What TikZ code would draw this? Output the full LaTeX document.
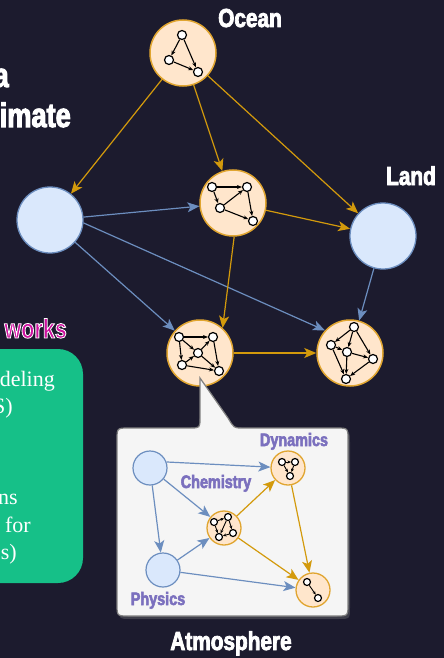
\documentclass[tikz,border=0pt]{standalone}
\usepackage{fontspec}
\usetikzlibrary{arrows.meta,shadows}
\setmainfont{Liberation Serif}
\newfontfamily\headfont[FakeStretch=0.8, FakeBold=3]{Liberation Sans}
\definecolor{bgnavy}{RGB}{28,27,46}
\definecolor{peachfill}{HTML}{FFE6CC}
\definecolor{peachring}{HTML}{E0A530}
\definecolor{goldline}{HTML}{D39A0C}
\definecolor{bluefill}{HTML}{DAE8FC}
\definecolor{blueline}{HTML}{6C8EBF}
\definecolor{labelpurple}{HTML}{7B70BE}
\definecolor{boxgreen}{HTML}{16C088}
\definecolor{calloutfill}{HTML}{F5F5F5}
\definecolor{worksmagenta}{RGB}{206,16,160}
\newcommand{\outlined}[1]{\special{pdf:literal direct 2 Tr 0.9 w 1 1 1 RG}#1\special{pdf:literal direct 0 Tr}}
\begin{document}
\begin{tikzpicture}[x=1pt, y=-1pt,
  bigpeach/.style={circle, fill=peachfill, draw=peachring, line width=1.5pt, minimum size=66pt, inner sep=0pt},
  bigblue/.style={circle, fill=bluefill, draw=blueline, line width=1.3pt, minimum size=66pt, inner sep=0pt},
  smallpeach/.style={bigpeach, minimum size=34pt, line width=1.3pt},
  smallblue/.style={bigblue, minimum size=34pt, line width=1.2pt},
  dot/.style={circle, fill=white, draw=black, line width=1.2pt, minimum size=9pt, inner sep=0pt},
  tinydot/.style={dot, minimum size=7pt},
  goldarrow/.style={draw=goldline, line width=1.2pt, -{Stealth[length=12pt, width=10pt, inset=3pt]}},
  bluearrow/.style={goldarrow, draw=blueline},
  inarrow/.style={draw=black, line width=1.1pt, -{Stealth[length=5pt, width=4pt]}},
  tinyarrow/.style={draw=black, line width=0.9pt, -{Stealth[length=3.5pt, width=3pt]}},
  headlabel/.style={text=white, anchor=base, inner sep=0pt, font=\headfont\bfseries\fontsize{26}{26}\selectfont},
  partlabel/.style={text=labelpurple, anchor=base, inner sep=0pt, font=\headfont\bfseries\fontsize{18}{18}\selectfont},
  boxline/.style={text=white, anchor=base east, inner sep=0pt, font=\fontsize{22}{27}\selectfont},
  callout/.style={draw=gray, fill=calloutfill, line width=1.2pt, drop shadow={opacity=0.35, shadow xshift=2pt, shadow yshift=-3pt}}
]
\useasboundingbox (0,0) rectangle (444,658);
\fill[bgnavy] (0,0) rectangle (444,658);

% left side, cut off
\node[text=white, anchor=base east, inner sep=0pt, font=\headfont\bfseries\fontsize{34}{34}\selectfont] (wa) at (9,87) {a};
\node[text=white, anchor=base east, inner sep=0pt, font=\headfont\bfseries\fontsize{34}{34}\selectfont] (wimate) at (71,127) {imate};
\node[text=worksmagenta, anchor=base east, inner sep=0pt, font=\headfont\bfseries\fontsize{27}{27}\selectfont] (works) at (67,338)
  {\outlined{works}};
\fill[boxgreen, rounded corners=25pt] (-40,349) rectangle (83,583);
\node[boxline] (l1) at (55,386) {deling};
\node[boxline] (l2) at (13,413) {S)};
\node[boxline] (l3) at (18,504) {ns};
\node[boxline] (l4) at (31,532) {for};
\node[boxline] (l5) at (17,559) {s)};

% main graph
\node[bigpeach] (ocean) at (183,53) {};
\node[bigblue] (leftc) at (50,220) {};
\node[bigpeach] (midc) at (233,203) {};
\node[bigblue] (land) at (383,236) {};
\node[bigpeach] (atmos) at (200,353) {};
\node[bigpeach] (lowr) at (350,353) {};

\draw[goldarrow] (ocean) -- (leftc);
\draw[goldarrow] (ocean) -- (midc);
\draw[goldarrow] (ocean) -- (land);
\draw[bluearrow] (leftc.5) -- (midc);
\draw[bluearrow] (leftc) -- (atmos);
\draw[bluearrow] (leftc.-5) -- (lowr.138);
\draw[goldarrow] (midc) -- (land);
\draw[goldarrow] (midc.-88) -- (atmos.48);
\draw[bluearrow] (land) -- (lowr);
\draw[goldarrow] (atmos) -- (lowr);

% little graphs inside
\node[dot] (o1) at (182,35) {};
\node[dot] (o2) at (169,60) {};
\node[dot] (o3) at (198,72) {};
\draw[inarrow] (o1) -- (o2);
\draw[inarrow] (o1) -- (o3);
\draw[inarrow] (o2) -- (o3);

\node[dot] (m1) at (212,187) {};
\node[dot] (m2) at (247,187) {};
\node[dot] (m3) at (220,208) {};
\node[dot] (m4) at (253,221) {};
\draw[inarrow] (m1) -- (m2);
\draw[inarrow] (m1) -- (m3);
\draw[inarrow] (m3) -- (m2);
\draw[inarrow] (m2) -- (m4);
\draw[inarrow] (m3) -- (m4);

\node[dot] (a1) at (179,337) {};
\node[dot] (a2) at (213,337) {};
\node[dot] (a3) at (198,353) {};
\node[dot] (a4) at (182,365) {};
\node[dot] (a5) at (219,371) {};
\draw[inarrow] (a1) -- (a2);
\draw[inarrow] (a1) -- (a4);
\draw[inarrow] (a1) -- (a3);
\draw[inarrow] (a4) -- (a3);
\draw[inarrow] (a3) -- (a2);
\draw[inarrow] (a4) -- (a5);
\draw[inarrow] (a3) -- (a5);
\draw[inarrow] (a2) -- (a5);

\node[dot] (r1) at (354,327) {};
\node[dot] (r2) at (331,345) {};
\node[dot] (r3) at (347,352) {};
\node[dot] (r4) at (373,359) {};
\node[dot] (r5) at (346,379) {};
\draw[inarrow] (r1) -- (r2);
\draw[inarrow] (r1) -- (r3);
\draw[inarrow] (r1) -- (r4);
\draw[inarrow] (r2) -- (r3);
\draw[inarrow] (r2) -- (r5);
\draw[inarrow] (r3) -- (r4);
\draw[inarrow] (r3) -- (r5);
\draw[inarrow] (r4) -- (r5);

% callout of the atmosphere
\draw[callout] (200,378) -- (200,418) .. controls (200,428) .. (190,428) -- (129,428)
  .. controls (117,428) .. (117,440) -- (117,604) .. controls (117,616) .. (129,616)
  -- (336,616) .. controls (348,616) .. (348,604) -- (348,440) .. controls (348,428) .. (336,428)
  -- (242,428) .. controls (234,428) .. (228,418) -- cycle;

\node[smallblue] (inblue) at (150,468) {};
\node[smallblue] (phys) at (163,570) {};
\node[smallpeach] (dyn) at (288,468) {};
\node[smallpeach] (chem) at (224,528) {};
\node[smallpeach] (sink) at (313,590) {};

\draw[bluearrow] (inblue.20) -- (dyn);
\draw[bluearrow] (inblue) -- (chem);
\draw[bluearrow] (inblue) -- (phys);
\draw[bluearrow] (phys) -- (chem);
\draw[bluearrow] (phys) -- (sink);
\draw[goldarrow] (chem) -- (dyn);
\draw[goldarrow] (chem) -- (sink);
\draw[goldarrow] (dyn) -- (sink);

\node[tinydot] (d1) at (282,462) {};
\node[tinydot] (d2) at (295,462) {};
\node[tinydot] (d3) at (290,476) {};
\draw[tinyarrow] (d1) -- (d2);
\draw[tinyarrow] (d2) -- (d3);
\draw[tinyarrow] (d1) -- (d3);

\node[tinydot] (c1) at (214,522) {};
\node[tinydot] (c2) at (228,517) {};
\node[tinydot] (c3) at (219,537) {};
\node[tinydot] (c4) at (233,533) {};
\draw[tinyarrow] (c1) -- (c2);
\draw[tinyarrow] (c2) -- (c4);
\draw[tinyarrow] (c1) -- (c3);
\draw[tinyarrow] (c2) -- (c3);
\draw[tinyarrow] (c4) -- (c3);

\node[tinydot] (s1) at (307,582) {};
\node[tinydot] (s2) at (318,598) {};
\draw[tinyarrow] (s1) -- (s2);

% labels
\node[headlabel] (toplab) at (250,27) {Ocean};
\node[headlabel] (landlab) at (411,185) {Land};
\node[headlabel] (atmoslab) at (231,650) {Atmosphere};
\node[partlabel] (dynlab) at (294,446) {Dynamics};
\node[partlabel] (chemlab) at (216,488) {Chemistry};
\node[partlabel] (physlab) at (158,605) {Physics};
\end{tikzpicture}
\end{document}
